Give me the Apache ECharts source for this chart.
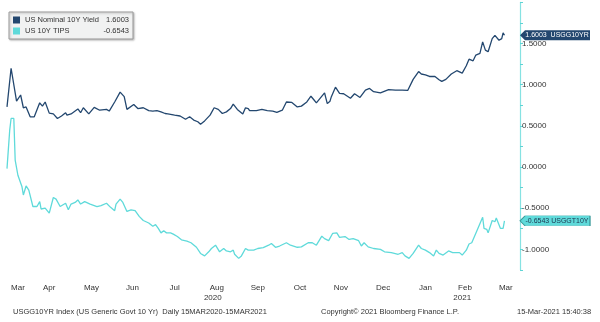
<!DOCTYPE html>
<html><head><meta charset="utf-8">
<script src="https://cdn.jsdelivr.net/npm/echarts@6/dist/echarts.min.js"></script>
<style>html,body{margin:0;padding:0;background:#fff}#c{width:600px;height:322px}</style>
</head><body><div id="c"></div>
<script>
const seriesNames = ['US Nominal 10Y Yield', 'US 10Y TIPS'];
const tickerNames = ['USGG10YR', 'USGGT10Y'];

const nominalDates = ['2020-03-15','2020-03-18','2020-03-22','2020-03-25','2020-03-27','2020-03-29','2020-04-01','2020-04-04','2020-04-08','2020-04-10','2020-04-12','2020-04-15','2020-04-18','2020-04-21','2020-04-24','2020-04-27','2020-04-28','2020-05-01','2020-05-06','2020-05-08','2020-05-10','2020-05-14','2020-05-18','2020-05-22','2020-05-27','2020-05-29','2020-06-02','2020-06-06','2020-06-09','2020-06-11','2020-06-16','2020-06-19','2020-06-23','2020-06-27','2020-06-30','2020-07-03','2020-07-06','2020-07-09','2020-07-11','2020-07-16','2020-07-20','2020-07-24','2020-07-27','2020-07-30','2020-08-02','2020-08-04','2020-08-07','2020-08-11','2020-08-14','2020-08-17','2020-08-20','2020-08-23','2020-08-26','2020-08-28','2020-08-31','2020-09-04','2020-09-06','2020-09-08','2020-09-09','2020-09-14','2020-09-18','2020-09-22','2020-09-26','2020-09-29','2020-10-03','2020-10-06','2020-10-07','2020-10-10','2020-10-14','2020-10-17','2020-10-21','2020-10-24','2020-10-26','2020-10-28','2020-10-31','2020-11-03','2020-11-05','2020-11-07','2020-11-08','2020-11-11','2020-11-14','2020-11-17','2020-11-22','2020-11-25','2020-11-29','2020-12-03','2020-12-06','2020-12-09','2020-12-14','2020-12-20','2020-12-25','2020-12-30','2021-01-03','2021-01-07','2021-01-11','2021-01-13','2021-01-16','2021-01-19','2021-01-23','2021-01-26','2021-01-28','2021-01-31','2021-02-04','2021-02-08','2021-02-12','2021-02-15','2021-02-17','2021-02-20','2021-02-22','2021-02-25','2021-02-27','2021-03-01','2021-03-03','2021-03-06','2021-03-08','2021-03-11','2021-03-13','2021-03-14','2021-03-15'];
const nominalValues = [0.73,1.20,0.80,0.875,0.72,0.73,0.61,0.61,0.78,0.74,0.79,0.655,0.645,0.59,0.62,0.66,0.63,0.645,0.705,0.66,0.72,0.645,0.725,0.69,0.70,0.68,0.79,0.91,0.855,0.70,0.76,0.71,0.72,0.685,0.68,0.685,0.67,0.65,0.645,0.63,0.62,0.58,0.61,0.57,0.55,0.52,0.56,0.63,0.72,0.70,0.65,0.67,0.71,0.765,0.70,0.645,0.72,0.71,0.685,0.685,0.70,0.685,0.68,0.665,0.69,0.79,0.775,0.785,0.73,0.74,0.79,0.86,0.82,0.78,0.84,0.90,0.77,0.80,0.855,0.97,0.895,0.89,0.835,0.89,0.845,0.935,0.955,0.915,0.90,0.94,0.935,0.935,0.93,1.065,1.16,1.13,1.12,1.10,1.10,1.06,1.04,1.065,1.13,1.17,1.14,1.23,1.31,1.29,1.36,1.38,1.52,1.42,1.40,1.56,1.60,1.54,1.56,1.63,1.6003];

const tipsDates = ['2020-03-15','2020-03-17','2020-03-18','2020-03-20','2020-03-21','2020-03-23','2020-03-26','2020-03-27','2020-03-29','2020-03-31','2020-04-03','2020-04-06','2020-04-08','2020-04-09','2020-04-12','2020-04-15','2020-04-18','2020-04-20','2020-04-23','2020-04-27','2020-04-29','2020-05-01','2020-05-04','2020-05-06','2020-05-08','2020-05-11','2020-05-15','2020-05-20','2020-05-23','2020-05-27','2020-05-30','2020-06-02','2020-06-03','2020-06-06','2020-06-08','2020-06-11','2020-06-14','2020-06-17','2020-06-20','2020-06-23','2020-06-27','2020-06-30','2020-07-02','2020-07-04','2020-07-06','2020-07-08','2020-07-10','2020-07-13','2020-07-15','2020-07-18','2020-07-21','2020-07-25','2020-07-28','2020-08-01','2020-08-04','2020-08-07','2020-08-10','2020-08-12','2020-08-15','2020-08-18','2020-08-21','2020-08-23','2020-08-26','2020-08-28','2020-08-29','2020-09-01','2020-09-03','2020-09-06','2020-09-08','2020-09-12','2020-09-15','2020-09-19','2020-09-23','2020-09-25','2020-09-28','2020-10-01','2020-10-06','2020-10-09','2020-10-14','2020-10-17','2020-10-22','2020-10-25','2020-10-28','2020-11-01','2020-11-03','2020-11-06','2020-11-09','2020-11-12','2020-11-14','2020-11-18','2020-11-21','2020-11-24','2020-11-28','2020-11-30','2020-12-02','2020-12-05','2020-12-09','2020-12-14','2020-12-17','2020-12-22','2020-12-27','2020-12-30','2021-01-01','2021-01-04','2021-01-07','2021-01-11','2021-01-13','2021-01-16','2021-01-19','2021-01-22','2021-01-24','2021-01-26','2021-01-29','2021-02-02','2021-02-05','2021-02-10','2021-02-12','2021-02-15','2021-02-17','2021-02-19','2021-02-22','2021-02-27','2021-02-28','2021-03-02','2021-03-03','2021-03-06','2021-03-08','2021-03-09','2021-03-12','2021-03-14','2021-03-15'];
const tipsValues = [-0.02,0.45,0.59,0.59,0.085,-0.10,-0.24,-0.34,-0.23,-0.28,-0.48,-0.48,-0.42,-0.51,-0.50,-0.56,-0.37,-0.39,-0.48,-0.44,-0.52,-0.45,-0.43,-0.40,-0.45,-0.42,-0.45,-0.48,-0.47,-0.44,-0.49,-0.53,-0.45,-0.39,-0.43,-0.54,-0.52,-0.53,-0.60,-0.65,-0.68,-0.72,-0.70,-0.745,-0.80,-0.775,-0.80,-0.80,-0.815,-0.845,-0.885,-0.90,-0.92,-0.975,-1.05,-1.08,-1.03,-0.99,-0.95,-1.03,-0.99,-1.02,-1.03,-1.01,-1.06,-1.11,-1.08,-0.99,-1.01,-1.01,-0.99,-0.98,-0.95,-0.93,-0.975,-0.96,-0.92,-0.95,-0.975,-0.97,-0.92,-0.92,-0.95,-0.84,-0.87,-0.895,-0.805,-0.80,-0.855,-0.845,-0.88,-0.87,-0.895,-0.96,-0.92,-0.97,-0.99,-1.00,-1.03,-1.04,-1.06,-1.04,-1.08,-1.11,-1.05,-0.95,-0.99,-1.01,-1.04,-1.08,-1.01,-1.05,-1.07,-1.02,-1.04,-1.04,-1.07,-1.01,-0.935,-0.92,-0.805,-0.61,-0.745,-0.757,-0.80,-0.65,-0.665,-0.62,-0.745,-0.745,-0.6543];

const monthTickDates = ['2020-03-23','2020-04-15','2020-05-16','2020-06-15','2020-07-16','2020-08-16','2020-09-15','2020-10-16','2020-11-15','2020-12-16','2021-01-16','2021-02-14','2021-03-16'];
const monthLabels = ['Mar','Apr','May','Jun','Jul','Aug','Sep','Oct','Nov','Dec','Jan','Feb','Mar'];
const yearTickDates = ['2020-08-13','2021-02-12'];
const yearLabels = ['2020','2021'];

const footerLeft = 'USGG10YR Index (US Generic Govt 10 Yr)  Daily 15MAR2020-15MAR2021';
const footerMid = 'Copyright\u00A9 2021 Bloomberg Finance L.P.';
const footerRight = '15-Mar-2021 15:40:38';

const axisStart = '2020-03-15';
const axisEnd = '2021-03-26';

const DAY = 86400e3;
const ts = s => new Date(s.replace(/-/g, '/')).getTime();
const pairs = (d, v) => d.map((x, i) => [ts(x), v[i]]);
const lastOf = a => a[a.length - 1];
const nearestLabel = (val, dates, labels) => {
  let best = 0, bd = Infinity;
  dates.forEach((d, i) => { const dd = Math.abs(ts(d) - val); if (dd < bd) { bd = dd; best = i; } });
  return labels[best];
};

const NAVY = '#23476f';
const CYAN = '#5fdada';
const FONT = 'Liberation Sans';
const lastVals = [lastOf(nominalValues), lastOf(tipsValues)];
const tagPath = 'path://M0,5 L5,0 L70,0 L70,10 L5,10 Z';
const xMax = ts(axisEnd) + 0.4 * DAY;

const chart = echarts.init(document.getElementById('c'), null, { renderer: 'canvas' });
const xBase = {
  type: 'value', min: ts(axisStart), max: xMax,
  axisLine: { show: false }, axisTick: { show: false }, splitLine: { show: false }
};
const footStyle = { fontSize: 7.5, fontWeight: 'normal', color: '#333', fontFamily: FONT };
chart.setOption({
  animation: false,
  textStyle: { fontFamily: FONT },
  title: [
    { text: footerLeft, left: 8, top: 303, textStyle: footStyle },
    { text: footerMid, left: 316, top: 303, textStyle: footStyle },
    { text: footerRight, left: 512, top: 303, textStyle: footStyle }
  ],
  legend: {
    orient: 'vertical', left: 9, top: 12, padding: [4, 4, 4, 4], itemGap: 3,
    itemWidth: 7, itemHeight: 7, icon: 'rect',
    backgroundColor: '#f1f2f2', borderColor: '#9a9a9a', borderWidth: 1,
    shadowColor: 'rgba(0,0,0,0.25)', shadowBlur: 2, shadowOffsetX: 1, shadowOffsetY: 1,
    data: seriesNames,
    formatter: name => {
      const i = seriesNames.indexOf(name);
      return '{n|' + name + '}{v|' + lastVals[i].toFixed(4) + '}';
    },
    textStyle: {
      fontFamily: FONT, fontSize: 7.5, color: '#333',
      rich: {
        n: { fontFamily: FONT, fontSize: 7.5, color: '#333', width: 80 },
        v: { fontFamily: FONT, fontSize: 7.5, color: '#333', width: 24, align: 'right' }
      }
    }
  },
  grid: { left: 7, right: 80, top: 2.4, bottom: 52.1, containLabel: false },
  xAxis: [
    Object.assign({}, xBase, {
      axisLabel: {
        customValues: monthTickDates.map(ts), margin: 14, fontSize: 8, color: '#333', fontFamily: FONT,
        hideOverlap: false,
        formatter: v => nearestLabel(v, monthTickDates, monthLabels)
      }
    }),
    Object.assign({}, xBase, {
      position: 'bottom',
      axisLabel: {
        customValues: yearTickDates.map(ts), margin: 24, fontSize: 8, color: '#333', fontFamily: FONT,
        hideOverlap: false,
        formatter: v => nearestLabel(v, yearTickDates, yearLabels)
      }
    })
  ],
  yAxis: {
    type: 'value', position: 'right', min: -1.25, max: 2.0, interval: 0.25,
    axisLine: { show: true, lineStyle: { color: '#86e2e2', width: 1.2 } },
    axisTick: { show: true, length: 3, lineStyle: { color: '#5fd4d4' } },
    splitLine: { show: false },
    axisLabel: {
      margin: 2, fontSize: 8, color: '#333', fontFamily: FONT,
      formatter: v => (Math.abs(v * 2 - Math.round(v * 2)) < 1e-6 && v < 1.75) ? v.toFixed(4) : ''
    }
  },
  series: [
    {
      name: seriesNames[0], type: 'line', xAxisIndex: 0, showSymbol: false, symbol: 'none',
      data: pairs(nominalDates, nominalValues),
      lineStyle: { color: NAVY, width: 1.3 }, itemStyle: { color: NAVY },
      markPoint: {
        symbol: tagPath, symbolSize: [70, 10], symbolOffset: [35, 0], silent: true,
        itemStyle: { color: NAVY },
        label: { show: true, position: 'inside', color: '#fff', fontSize: 7, fontFamily: FONT, offset: [2, 0],
          formatter: () => lastVals[0].toFixed(4) + '  ' + tickerNames[0] },
        data: [{ coord: [xMax, lastVals[0]] }]
      }
    },
    {
      name: seriesNames[1], type: 'line', xAxisIndex: 0, showSymbol: false, symbol: 'none',
      data: pairs(tipsDates, tipsValues),
      lineStyle: { color: CYAN, width: 1.3 }, itemStyle: { color: CYAN },
      markPoint: {
        symbol: tagPath, symbolSize: [70, 10], symbolOffset: [35, 0], silent: true,
        itemStyle: { color: CYAN, borderColor: '#3a9a9a', borderWidth: 0.5 },
        label: { show: true, position: 'inside', color: '#1d3550', fontSize: 7, fontFamily: FONT, offset: [2, 0],
          formatter: () => lastVals[1].toFixed(4) + ' ' + tickerNames[1] },
        data: [{ coord: [xMax, lastVals[1]] }]
      }
    }
  ]
});
</script></body></html>
